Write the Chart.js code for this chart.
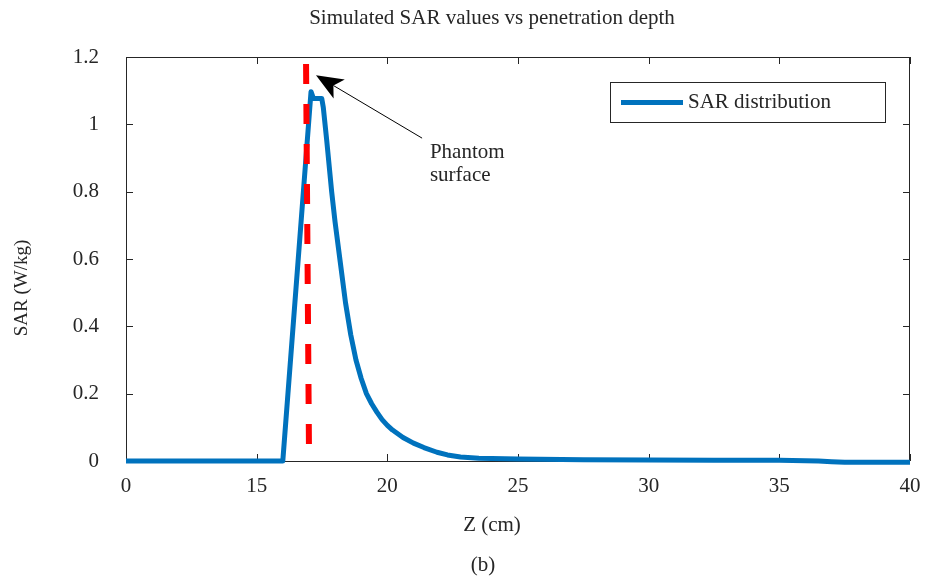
<!DOCTYPE html>
<html>
<head>
<meta charset="utf-8">
<script src="https://cdn.jsdelivr.net/npm/chart.js@4"></script>
<style>
  html, body { margin: 0; padding: 0; background: #fff; }
  #wrap { width: 929px; height: 586px; }
</style>
</head>
<body>
<div id="wrap"><canvas id="chart" width="929" height="586"></canvas></div>
<script>
// values
const zCm = [10, 16.0, 17.08, 17.17, 17.49, 17.55, 17.68, 17.87, 18.0, 18.2, 18.4, 18.6, 18.8, 19.0,
    19.2, 19.4, 19.6, 19.8, 20.0, 20.2, 20.6, 21.0, 21.4, 21.9, 22.3, 22.8, 23.5, 25, 27.5, 30, 32.5, 35, 36.5, 37.0, 37.5, 40];
const sarValues = [0, 0, 1.097, 1.077, 1.077, 1.05, 0.953, 0.80, 0.71, 0.59, 0.47, 0.375, 0.30, 0.245,
    0.2, 0.17, 0.145, 0.123, 0.106, 0.092, 0.07, 0.053, 0.04, 0.026, 0.018, 0.012, 0.008, 0.006, 0.004, 0.003, 0.002, 0.002, 0.0, -0.002, -0.004, -0.004];
const surfaceZ = [16.89, 17.0];
const surfaceSar = [1.179, 0.05];

const xTickValues = [10, 15, 20, 25, 30, 35, 40];
const xTickLabels = ['0', '15', '20', '25', '30', '35', '40'];
const yTickValues = [0, 0.2, 0.4, 0.6, 0.8, 1, 1.2];

const arrowTip = { x: 17.27, y: 1.146 };
const arrowTail = { x: 21.33, y: 0.959 };
const noteLines = ['Phantom', 'surface'];
const notePos = { x: 21.63, y: 0.915 };

const FONT = '"Liberation Serif", "Times New Roman", serif';
const INK = '#262626';

const framePlugin = {
    id: 'frame',
    beforeDatasetsDraw(chart) {
        const { ctx, chartArea: a, scales } = chart;
        ctx.save();
        ctx.strokeStyle = INK;
        ctx.lineWidth = 1;
        ctx.strokeRect(a.left + 0.5, a.top + 0.5, a.right - a.left - 1, a.bottom - a.top);
        ctx.beginPath();
        xTickValues.forEach((v) => {
            const px = Math.round(scales.x.getPixelForValue(v)) + 0.5;
            ctx.moveTo(px, a.bottom); ctx.lineTo(px, a.bottom - 7);
            ctx.moveTo(px, a.top); ctx.lineTo(px, a.top + 7);
        });
        yTickValues.forEach((v) => {
            const py = Math.round(scales.y.getPixelForValue(v)) + 0.5;
            ctx.moveTo(a.left, py); ctx.lineTo(a.left + 7, py);
            ctx.moveTo(a.right, py); ctx.lineTo(a.right - 7, py);
        });
        ctx.stroke();
        ctx.restore();
    },
    afterDraw(chart) {
        const { ctx, scales } = chart;
        ctx.save();
        ctx.fillStyle = INK;
        ctx.font = '21px ' + FONT;
        ctx.textAlign = 'center';
        ctx.textBaseline = 'middle';
        ctx.fillText('Simulated SAR values vs penetration depth', 492, 18);
        ctx.fillText('Z (cm)', 492, 525);
        ctx.fillText('(b)', 483, 565);

        ctx.save();
        ctx.font = '19px ' + FONT;
        ctx.translate(22, 288);
        ctx.rotate(-Math.PI / 2);
        ctx.fillText('SAR (W/kg)', 0, 0);
        ctx.restore();

        // annotation text
        ctx.textAlign = 'left';
        const nx = scales.x.getPixelForValue(notePos.x);
        const ny = scales.y.getPixelForValue(notePos.y);
        noteLines.forEach((t, i) => ctx.fillText(t, nx, ny + i * 23));

        // arrow
        const tx = scales.x.getPixelForValue(arrowTip.x), ty = scales.y.getPixelForValue(arrowTip.y);
        const sx = scales.x.getPixelForValue(arrowTail.x), sy = scales.y.getPixelForValue(arrowTail.y);
        const ang = Math.atan2(ty - sy, tx - sx);
        const len = 27, half = 11;
        const bx = tx - len * Math.cos(ang), by = ty - len * Math.sin(ang);
        const nxp = tx - len * 0.75 * Math.cos(ang), nyp = ty - len * 0.75 * Math.sin(ang);
        ctx.strokeStyle = '#000';
        ctx.lineWidth = 1;
        ctx.beginPath();
        ctx.moveTo(sx, sy);
        ctx.lineTo(nxp, nyp);
        ctx.stroke();
        ctx.fillStyle = '#000';
        ctx.beginPath();
        ctx.moveTo(tx, ty);
        ctx.lineTo(bx + half * Math.sin(ang), by - half * Math.cos(ang));
        ctx.lineTo(nxp, nyp);
        ctx.lineTo(bx - half * Math.sin(ang), by + half * Math.cos(ang));
        ctx.closePath();
        ctx.fill();

        // legend
        const ds = chart.data.datasets[0];
        ctx.fillStyle = '#fff';
        ctx.fillRect(610, 82, 275, 40);
        ctx.strokeStyle = INK;
        ctx.lineWidth = 1;
        ctx.strokeRect(610.5, 82.5, 275, 40);
        ctx.strokeStyle = ds.borderColor;
        ctx.lineWidth = 5;
        ctx.beginPath();
        ctx.moveTo(621, 102.5);
        ctx.lineTo(683, 102.5);
        ctx.stroke();
        ctx.fillStyle = INK;
        ctx.fillText(ds.label, 688, 102.5);
        ctx.restore();
    }
};

new Chart(document.getElementById('chart'), {
    type: 'line',
    data: {
        datasets: [
            {
                label: 'SAR distribution',
                data: zCm.map((z, i) => ({ x: z, y: sarValues[i] })),
                borderColor: '#0072BD',
                borderWidth: 5,
                pointRadius: 0,
                tension: 0,
                borderJoinStyle: 'round',
                clip: false,
                order: 1,
            },
            {
                label: 'Phantom surface',
                data: surfaceZ.map((z, i) => ({ x: z, y: surfaceSar[i] })),
                borderColor: '#FF0000',
                borderWidth: 6,
                borderDash: [20, 20],
                borderCapStyle: 'butt',
                pointRadius: 0,
                clip: false,
                order: 0,
            },
        ],
    },
    options: {
        responsive: false,
        animation: false,
        layout: { padding: { top: 57, right: 19, left: 0, bottom: 0 } },
        plugins: {
            legend: { display: false },
            title: { display: false },
            tooltip: { enabled: false },
        },
        scales: {
            x: {
                type: 'linear',
                min: 10,
                max: 40,
                afterFit: (scale) => {
                    scale.height = 125;
                    scale.paddingLeft = 0;
                    scale.paddingRight = 0;
                },
                afterBuildTicks: (scale) => { scale.ticks = xTickValues.map((v) => ({ value: v })); },
                grid: { display: false, drawTicks: false },
                border: { display: false },
                ticks: {
                    padding: 13,
                    color: INK,
                    font: { family: FONT, size: 21 },
                    callback: (v) => xTickLabels[xTickValues.indexOf(v)],
                },
            },
            y: {
                min: 0,
                max: 1.2,
                afterFit: (scale) => {
                    scale.width = 126;
                    scale.paddingTop = 0;
                    scale.paddingBottom = 0;
                },
                afterBuildTicks: (scale) => { scale.ticks = yTickValues.map((v) => ({ value: v })); },
                grid: { display: false, drawTicks: false },
                border: { display: false },
                ticks: {
                    padding: 27,
                    color: INK,
                    font: { family: FONT, size: 21 },
                    callback: (v) => String(v),
                },
            },
        },
    },
    plugins: [framePlugin],
});
</script>
</body>
</html>
